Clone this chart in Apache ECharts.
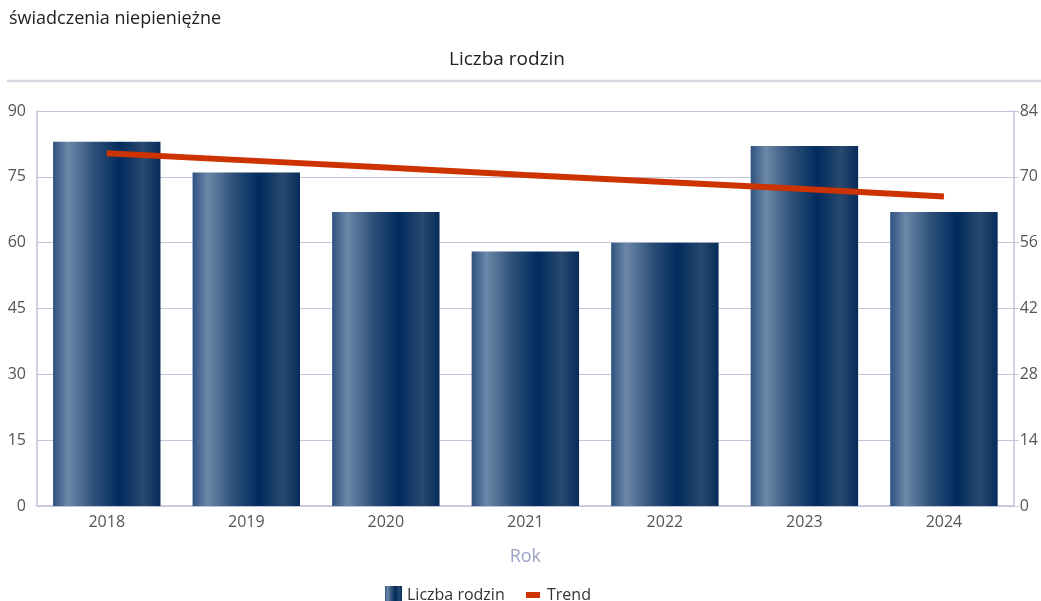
<!DOCTYPE html>
<html>
<head>
<meta charset="utf-8">
<script src="https://cdn.jsdelivr.net/npm/echarts@6/dist/echarts.min.js"></script>
<style>
  html, body { margin: 0; padding: 0; background: #fff; }
  #chart { width: 1041px; height: 601px; }
</style>
</head>
<body>
<div id="chart"></div>
<script>
// dane
var years = ['2018', '2019', '2020', '2021', '2022', '2023', '2024']
var families = [83, 76, 67, 58, 60, 82, 67]
var trend = [75.0, 73.5, 72.0, 70.4, 68.9, 67.4, 65.8]
var leftTicks = { min: 0, max: 90, step: 15 }
var rightTicks = { min: 0, max: 84, step: 14 }

var font = '"Open Sans", "DejaVu Sans", sans-serif'
var axisColor = '#c3c3da'

// gradient słupka (poziomy)
var barFill = new echarts.graphic.LinearGradient(0, 0, 1, 0, [
  { offset: 0, color: '#2f5281' },
  { offset: 0.14, color: '#6c88a8' },
  { offset: 0.38, color: '#2d5079' },
  { offset: 0.62, color: '#012b5d' },
  { offset: 0.84, color: '#28496f' },
  { offset: 1, color: '#072c5b' }
])

var myChart = echarts.init(document.getElementById('chart'))

var option = {
  animation: false,
  textStyle: { fontFamily: font },
  grid: { left: 37, right: 25, top: 111, bottom: 95 },
  graphic: [
    {
      type: 'text', left: 9, top: 10,
      style: { text: 'świadczenia niepieniężne', fill: '#222', font: '18px ' + font }
    },
    {
      type: 'text', left: 449, top: 50,
      style: { text: 'Liczba rodzin', fill: '#222', font: '19px ' + font }
    },
    {
      type: 'line', shape: { x1: 7, y1: 81, x2: 1041, y2: 81 },
      style: { stroke: '#d6d6de', lineWidth: 2.5 }
    }
  ],
  legend: [
    {
      data: ['Liczba rodzin'], left: 380, top: 581,
      icon: 'rect', itemWidth: 17, itemHeight: 18, itemGap: 4,
      textStyle: { color: '#333', fontSize: 16, fontFamily: font }
    },
    {
      data: ['Trend'], left: 521, top: 582,
      icon: 'rect', itemWidth: 14, itemHeight: 6,
      textStyle: { color: '#333', fontSize: 16, fontFamily: font, padding: [0, 0, 0, 2] }
    }
  ],
  xAxis: {
    type: 'category',
    data: years,
    name: 'Rok',
    nameLocation: 'middle',
    nameGap: 42,
    nameTextStyle: { color: '#9ca2c4', fontSize: 18 },
    axisLine: { lineStyle: { color: axisColor, width: 1.5 } },
    axisTick: { show: false },
    axisLabel: { color: '#555', fontSize: 16, margin: 8 }
  },
  yAxis: [
    {
      type: 'value',
      min: leftTicks.min, max: leftTicks.max, interval: leftTicks.step,
      axisLine: { show: true, lineStyle: { color: axisColor, width: 1.5 } },
      axisTick: { show: false },
      axisLabel: { color: '#555', fontSize: 16, margin: 11 },
      splitLine: { lineStyle: { color: axisColor, width: 1 } }
    },
    {
      type: 'value',
      min: rightTicks.min, max: rightTicks.max, interval: rightTicks.step,
      axisLine: { show: true, lineStyle: { color: axisColor, width: 1.5 } },
      axisTick: { show: true, length: 5, lineStyle: { color: axisColor } },
      axisLabel: { color: '#555', fontSize: 16, margin: 6 },
      splitLine: { show: false }
    }
  ],
  series: [
    {
      name: 'Liczba rodzin',
      type: 'bar',
      data: families,
      barCategoryGap: '23%',
      itemStyle: { color: barFill }
    },
    {
      name: 'Trend',
      type: 'line',
      yAxisIndex: 1,
      data: trend,
      symbol: 'none',
      lineStyle: { color: '#cc3300', width: 6 },
      itemStyle: { color: '#cc3300' }
    }
  ]
}

myChart.setOption(option)
window.addEventListener('resize', () => {
  myChart && myChart.resize()
})
</script>
</body>
</html>
